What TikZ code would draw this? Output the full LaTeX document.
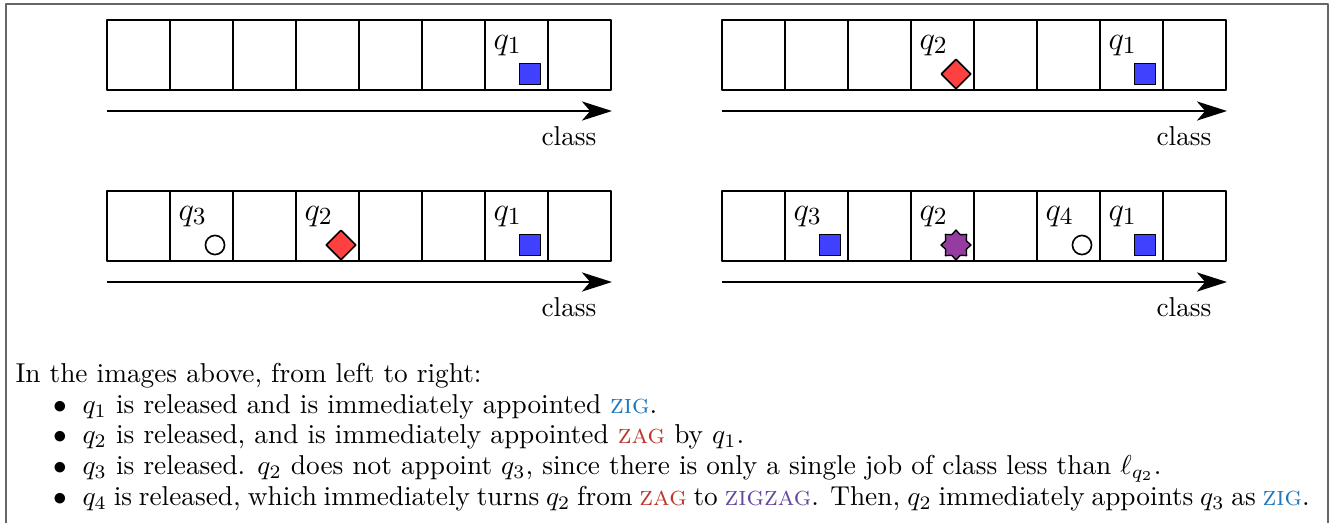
\documentclass[tikz,border=0pt]{standalone}
\usetikzlibrary{arrows.meta,shapes.geometric}
\definecolor{zigblue}{RGB}{31,119,190}
\definecolor{zagred}{RGB}{190,55,45}
\definecolor{zzpurple}{RGB}{100,72,160}
\definecolor{jobblue}{RGB}{64,64,255}
\definecolor{jobred}{RGB}{255,64,64}
\definecolor{jobpurple}{RGB}{150,60,160}
\newcommand{\zig}{\textcolor{zigblue}{\textsc{zig}}}
\newcommand{\zag}{\textcolor{zagred}{\textsc{zag}}}
\newcommand{\zigzag}{\textcolor{zzpurple}{\textsc{zigzag}}}
\begin{document}
\begin{tikzpicture}[x=0.3663pt, y=-0.3663pt, line join=round, >={Stealth[length=11pt,width=7pt,inset=3pt]},
    cell/.style={draw, line width=0.8pt},
    qlabel/.style={anchor=base west, inner sep=0pt, font=\fontsize{13}{15}\selectfont},
    sqjob/.style={draw, fill=jobblue, minimum size=7.7pt, inner sep=0pt, line width=0.6pt},
    dmjob/.style={draw, diamond, fill=jobred, minimum size=11pt, inner sep=0pt, line width=0.6pt},
    ccjob/.style={draw, circle, fill=white, minimum size=7pt, inner sep=0pt, line width=0.6pt},
    stjob/.style={draw, star, star points=8, star point ratio=1.35, fill=jobpurple, minimum size=11pt, inner sep=0pt, line width=0.5pt},
    txt/.style={anchor=base west, inner sep=0pt}]
    \useasboundingbox (0,0) rectangle (1331,522);
    \draw[black!60, line width=0.5pt] (6,4) rectangle (1328,540);
    \def\cw{63} \def\ch{70} % cell size
    % ============= ROW OF CLASSES
    \newcommand{\classrow}[3]{
    \foreach \k in {0,...,7} {\draw[cell] (#1+\cw*\k, #2) rectangle ++(\cw, \ch);}
    \coordinate (start-#3) at (#1, #2+91);
    \coordinate (end-#3) at (#1+505, #2+91);
    \draw[->, line width=0.8pt] (start-#3) -- (end-#3);
    \node[anchor=base east, inner sep=0pt] (class-#3) at (#1+490, #2+125) {class};
    }
    % ============= JOB IN A CELL
    \newcommand{\job}[6]{
    \node[qlabel] (lbl-#6) at (#1+\cw*#3+8, #2+29) {$#4$};
    \node[#5] (#6) at (#1+\cw*#3+45, #2+54) {};
    }
    \classrow{107}{20}{a}
    \classrow{722}{20}{b}
    \classrow{107}{191}{c}
    \classrow{722}{191}{d}
    %---
    \job{107}{20}{6}{q_1}{sqjob}{a1}
    \job{722}{20}{3}{q_2}{dmjob}{b2}
    \job{722}{20}{6}{q_1}{sqjob}{b1}
    \job{107}{191}{1}{q_3}{ccjob}{c3}
    \job{107}{191}{3}{q_2}{dmjob}{c2}
    \job{107}{191}{6}{q_1}{sqjob}{c1}
    \job{722}{191}{1}{q_3}{sqjob}{d3}
    \job{722}{191}{3}{q_2}{stjob}{d2}
    \job{722}{191}{5}{q_4}{ccjob}{d4}
    \job{722}{191}{6}{q_1}{sqjob}{d1}
    % =========== CAPTION
    \node[txt] (intro) at (15,382) {In the images above, from left to right:};
    \foreach \yy [count=\i] in {413,443,474,505} {\node[anchor=base, inner sep=0pt] (dot\i) at (60,\yy) {$\bullet$};}
    \node[txt] (item1) at (82,413) {$q_1$ is released and is immediately appointed \zig.};
    \node[txt] (item2) at (82,443) {$q_2$ is released, and is immediately appointed \zag{} by $q_1$.};
    \node[txt] (item3) at (82,474) {$q_3$ is released. $q_2$ does not appoint $q_3$, since there is only a single job of class less than $\ell_{q_2}$.};
    \node[txt] (item4) at (82,505) {\hbox to 449.5pt{$q_4$ is released, which immediately turns $q_2$ from \zag{} to \zigzag. Then, $q_2$ immediately appoints $q_3$ as \zig.}};
\end{tikzpicture}
\end{document}
